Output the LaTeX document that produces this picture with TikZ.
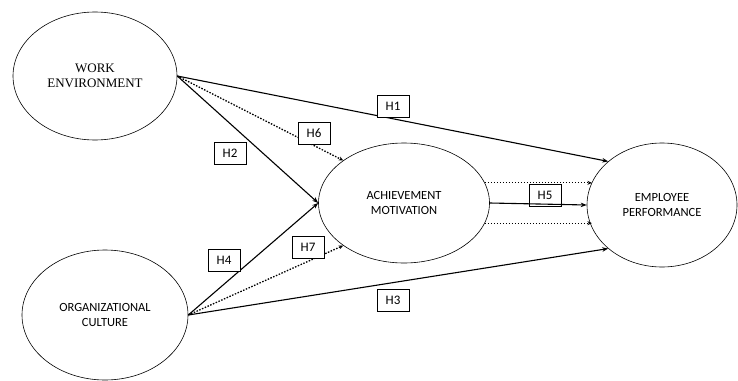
\documentclass[tikz,border=0pt]{standalone}
\usepackage{fontspec}
\setmainfont{Carlito}
\newfontfamily\serifrm{Liberation Serif}
\usetikzlibrary{shapes.geometric,arrows.meta}
\begin{document}
\begin{tikzpicture}[x=1pt,y=-1pt,
  construct/.style={draw,ellipse,line width=0.6pt,inner sep=0pt,align=center,font=\fontsize{12.5}{15}\selectfont},
  hyp/.style={draw,line width=0.6pt,minimum width=32pt,minimum height=22pt,inner sep=0pt,font=\fontsize{13}{15}\selectfont},
  solidarr/.style={line width=1.1pt,-{Stealth[length=6pt,width=4.5pt]}},
  dotarr/.style={line width=1.3pt,dash pattern=on 1.5pt off 1.5pt,-{Stealth[length=4.5pt,width=4pt]}}]
\useasboundingbox (0,0) rectangle (738,380);
\node[construct,minimum width=164pt,minimum height=128pt,font=\serifrm\fontsize{13}{15}\selectfont] (we) at (95,76) {WORK\\ENVIRONMENT};
\node[construct,minimum width=166pt,minimum height=130pt] (oc) at (105,315) {ORGANIZATIONAL\\CULTURE};
\node[construct,minimum width=171pt,minimum height=120pt] (am) at (404,203) {ACHIEVEMENT\\MOTIVATION};
\node[construct,minimum width=150pt,minimum height=124pt] (ep) at (662,205) {EMPLOYEE\\PERFORMANCE};
% connectors
\draw[solidarr] (we.east) -- (ep.141.5);
\draw[dotarr] (we.east) -- (am.145.5);
\draw[solidarr] (we.east) -- (am.west);
\draw[solidarr] (oc.east) -- (am.west);
\draw[dotarr] (oc.east) -- (am.215);
\draw[solidarr] (oc.east) -- (ep.219);
\draw[solidarr] (am.east) -- (ep.west);
\draw[dotarr] (am.14) -- (am.14 -| ep.162);
\draw[dotarr] (am.-14) -- (am.-14 -| ep.198);
% hypothesis labels
\node[hyp,fill=white] (h1) at (393,106) {H1};
\node[hyp,fill=white] (h6) at (314,133) {H6};
\node[hyp,fill=white] (h2) at (230,153) {H2};
\node[hyp,fill=white] (h4) at (224,260) {H4};
\node[hyp,fill=white] (h7) at (308,247) {H7};
\node[hyp,fill=white] (h3) at (393,300) {H3};
\node[hyp] (h5) at (545,195) {H5};
\end{tikzpicture}
\end{document}
